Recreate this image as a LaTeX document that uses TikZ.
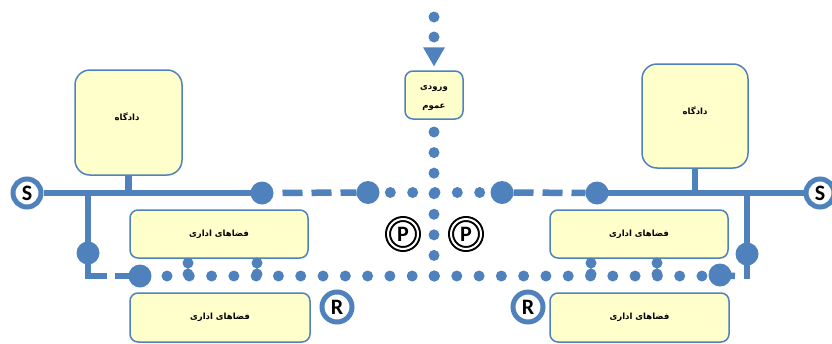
\documentclass[tikz,border=0pt]{standalone}
\usepackage{fontspec}
\newfontfamily\arabicfont[Script=Arabic]{DejaVu Sans}
\newfontfamily\carlito{Carlito}
\TeXXeTstate=1
\usetikzlibrary{calc}
\definecolor{bl}{HTML}{4F81BD}
\definecolor{yel}{HTML}{FFFFCC}
\begin{document}
\begin{tikzpicture}[x=1pt,y=-1pt,
  box/.style={draw=bl, fill=yel, line width=1.5pt, inner sep=0pt},
  solidline/.style={draw=bl, line width=6.5pt},
  dashline/.style={draw=bl, line width=6.5pt, dash pattern=on 20pt off 9pt},
  dotline/.style={draw=bl, line width=11pt, line cap=round, dash pattern=on 0pt off #1},
  jdot/.style={circle, fill=bl, minimum size=23pt, inner sep=0pt},
  ring/.style={circle, draw=bl, line width=5pt, fill=white, inner sep=0pt, font=\carlito\bfseries\fontsize{22}{22}\selectfont},
  pring/.style={circle, draw=black, double=white, double distance=2pt, line width=2pt, fill=white, minimum size=30pt, inner sep=0pt, font=\carlito\bfseries\fontsize{22}{22}\selectfont},
  ar/.style={font=\arabicfont\bfseries\fontsize{8.5}{19}\selectfont, align=center}
]
\useasboundingbox (0,0) rectangle (832,343);

% boxes
\node[box, rounded corners=15pt, minimum width=107pt, minimum height=105pt] (courtL) at (128.5,122.5) {};
\node[ar] (courtLt) at (127,117) {\beginR دادگاه\endR};
\node[box, rounded corners=15pt, minimum width=106pt, minimum height=104pt] (courtR) at (695,116) {};
\node[ar] (courtRt) at (695,111) {\beginR دادگاه\endR};
\node[box, rounded corners=8pt, minimum width=58pt, minimum height=48pt] (entry) at (434,95) {};
\node[ar] (entryt) at (434,98) {\beginR ورودی\endR\\\beginR عموم\endR};
\node[box, rounded corners=8pt, minimum width=178pt, minimum height=48pt, ar] (off1) at (219,234) {\beginR فضاهای اداری\endR};
\node[box, rounded corners=8pt, minimum width=180pt, minimum height=49pt, ar] (off2) at (220,317.5) {\beginR فضاهای اداری\endR};
\node[box, rounded corners=8pt, minimum width=178pt, minimum height=48pt, ar] (off3) at (639,234) {\beginR فضاهای اداری\endR};
\node[box, rounded corners=8pt, minimum width=179pt, minimum height=49pt, ar] (off4) at (639.5,317.5) {\beginR فضاهای اداری\endR};

% coordinates
\coordinate (t1) at (434,17);
\coordinate (t2) at (434,37);
\coordinate (v1) at (434,132);
\coordinate (v2) at (434,276);
\coordinate (b1) at (167,276);
\coordinate (b2) at (702,276);
\coordinate (l1) at (88,193);
\coordinate (r1) at (747,193);
\coordinate (r2) at (747,279);
\coordinate (rs) at (735,276);
\coordinate (d1a) at (188,263); \coordinate (d1b) at (188,285);
\coordinate (d2a) at (257,263); \coordinate (d2b) at (257,285);
\coordinate (d3a) at (591,263); \coordinate (d3b) at (591,285);
\coordinate (d4a) at (657,263); \coordinate (d4b) at (657,285);

% junction dots (positions)
\path (262,193) coordinate (j1c) (368,192.5) coordinate (j2c) (502,192.5) coordinate (j3c) (597,193) coordinate (j4c)
      (88,253) coordinate (j5c) (140,276) coordinate (j6c) (747,254) coordinate (j7c) (720,275) coordinate (j8c);

% ring nodes
\node[ring, minimum size=28pt] (SL) at (27,193) {S};
\node[ring, minimum size=28pt] (SR) at (820,193) {S};
\node[ring, minimum size=30pt] (RL) at (337,307) {R};
\node[ring, minimum size=30pt] (RR) at (528,307) {R};
\node[pring] (PL) at (403,234) {P};
\node[pring] (PR) at (466,234) {P};

% connectors
\draw[solidline] (courtL.south) -- (courtL.south |- SL);
\draw[solidline] (courtR.south) -- (courtR.south |- SR);
\draw[solidline] (SL) -- (j1c);
\draw[dashline, dash phase=20pt] ($(j1c)+(11.5,0)$) -- ($(j2c)+(-11.5,0)$);
\draw[dotline=22.33pt] (j2c) -- (j3c);
\draw[dashline] ($(j3c)+(11.5,0)$) -- ($(j4c)+(-11.5,0)$);
\draw[solidline] (j4c) -- (SR);
\draw[solidline, dash pattern=on 102pt off 8pt on 100pt] (l1) |- (j6c);
\draw[solidline] (r1) -- (r2);
\draw[solidline] (j8c) -- (rs);
\draw[dotline=22.29pt] (b1) -- (b2);
\draw[dotline=20.57pt] (v1) -- (v2);
\draw[dotline=20pt] (t1) -- (t2);
\fill[bl] ($(entry.north)+(-11,-23)$) -- ($(entry.north)+(11,-23)$) -- ($(entry.north)+(0,-4)$) -- cycle;
\draw[dotline=11pt] (d1a) -- (d1b);
\draw[dotline=11pt] (d2a) -- (d2b);
\draw[dotline=11pt] (d3a) -- (d3b);
\draw[dotline=11pt] (d4a) -- (d4b);

% junction dots
\foreach \j in {j1c,j2c,j3c,j4c,j5c,j6c,j7c,j8c}{\node[jdot] at (\j) {};}
\end{tikzpicture}
\end{document}
